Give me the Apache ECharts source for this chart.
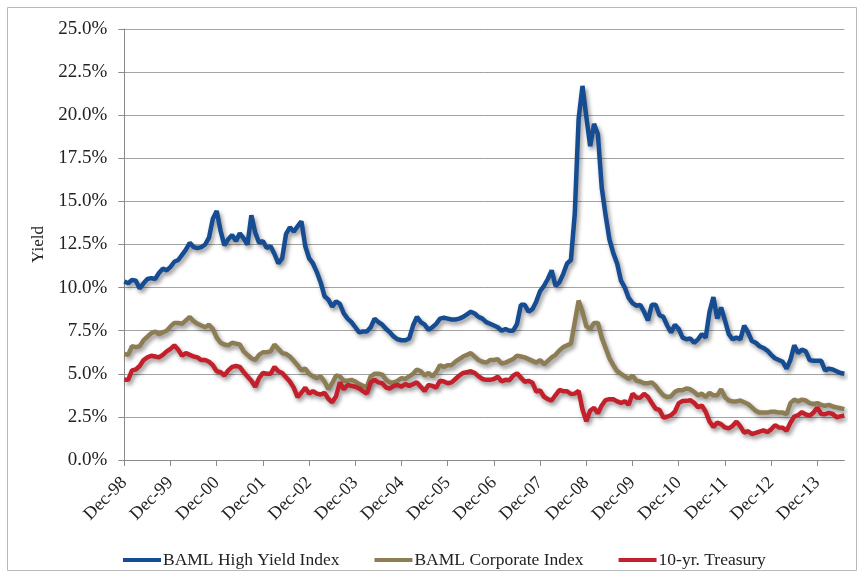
<!DOCTYPE html>
<html>
<head>
<meta charset="utf-8">
<script src="https://cdn.jsdelivr.net/npm/echarts@6/dist/echarts.min.js"></script>
<style>
html,body{margin:0;padding:0;background:#fff;}
#c{width:864px;height:578px;}
</style>
</head>
<body>
<div id="c"></div>
<script>
// Monthly observations, Dec-98 .. Jul-14
const monthNames = ['Jan','Feb','Mar','Apr','May','Jun','Jul','Aug','Sep','Oct','Nov','Dec'];
const categories = [];
for (let i = 0; i < 188; i++) {
  const m = (11 + i) % 12;
  const y = 1998 + Math.floor((11 + i) / 12);
  categories.push(monthNames[m] + '-' + String(y % 100).padStart(2, '0'));
}
const yTicks = [0, 2.5, 5, 7.5, 10, 12.5, 15, 17.5, 20, 22.5, 25];
const seriesNames = ['BAML High Yield Index', 'BAML Corporate Index', '10-yr. Treasury'];

const highYield = [
  10.35, 10.25, 10.45, 10.4, 9.95, 10.25, 10.5, 10.55, 10.5, 10.85, 11.1, 11.0,
  11.2, 11.5, 11.6, 11.9, 12.2, 12.6, 12.35, 12.3, 12.35, 12.5, 12.9, 14.0,
  14.45, 13.3, 12.45, 12.8, 13.05, 12.7, 13.15, 12.85, 12.5, 14.2, 13.2, 12.6,
  12.7, 12.3, 12.4, 11.95, 11.4, 11.7, 13.1, 13.5, 13.25, 13.55, 13.85, 12.4,
  11.7, 11.4, 10.9, 10.3, 9.5, 9.3, 8.9, 9.2, 9.05, 8.5, 8.2, 8.0,
  7.7, 7.4, 7.45, 7.45, 7.7, 8.2, 8.0, 7.85, 7.6, 7.4, 7.15, 7.0,
  6.95, 6.95, 7.05, 7.8, 8.3, 8.0, 7.85, 7.55, 7.7, 7.9, 8.2, 8.25,
  8.2, 8.15, 8.15, 8.2, 8.3, 8.45, 8.6, 8.5, 8.3, 8.2, 8.0, 7.9,
  7.8, 7.7, 7.5, 7.6, 7.5, 7.5, 7.9, 9.0, 9.0, 8.6, 8.75, 9.2,
  9.8, 10.1, 10.5, 11.0, 10.1, 10.3, 10.8, 11.4, 11.6, 14.3, 19.8, 21.7,
  19.9, 18.2, 19.5, 18.9, 15.8, 14.2, 12.8, 12.0, 11.4, 10.4, 10.0, 9.4,
  9.1, 8.95, 9.0, 8.6, 8.1, 9.0, 9.0, 8.4, 8.3, 7.8, 7.4, 7.85,
  7.6, 7.1, 7.0, 7.05, 6.8, 7.0, 7.3, 7.1, 8.6, 9.45, 8.2, 8.85,
  8.1, 7.3, 7.0, 7.1, 7.0, 7.8, 7.4, 6.9, 6.8, 6.6, 6.5, 6.35,
  6.1, 5.9, 5.8, 5.7, 5.3, 5.8, 6.65, 6.2, 6.4, 6.3, 5.8, 5.75,
  5.75, 5.75, 5.2, 5.3, 5.25, 5.15, 5.05, 5.0
];

const corporate = [
  6.15, 6.1, 6.6, 6.55, 6.6, 6.95, 7.15, 7.35, 7.45, 7.3, 7.4, 7.5,
  7.75, 7.95, 7.95, 7.9, 8.1, 8.3, 8.05, 7.9, 7.8, 7.7, 7.85, 7.6,
  7.1, 6.8, 6.7, 6.65, 6.8, 6.75, 6.7, 6.3, 6.1, 5.9, 5.8, 6.1,
  6.25, 6.25, 6.3, 6.7, 6.45, 6.2, 6.15, 6.0, 5.75, 5.5, 5.2, 5.3,
  5.0, 4.85, 4.75, 4.85, 4.55, 4.1, 4.45, 4.9, 4.85, 4.6, 4.6, 4.65,
  4.55, 4.4, 4.3, 4.25, 4.85, 5.0, 5.0, 4.95, 4.65, 4.5, 4.5, 4.6,
  4.75, 4.7, 4.85, 5.0, 5.25, 5.15, 4.9, 5.05, 4.85, 5.1, 5.5, 5.4,
  5.5, 5.5, 5.7, 5.85, 6.0, 6.1, 6.2, 6.0, 5.8, 5.7, 5.65, 5.8,
  5.8, 5.85, 5.6, 5.65, 5.75, 5.85, 6.05, 6.0, 5.95, 5.85, 5.75, 5.65,
  5.8, 5.55, 5.75, 5.95, 6.1, 6.35, 6.55, 6.65, 6.75, 8.0, 9.25, 8.6,
  7.75, 7.6, 7.95, 7.95, 7.1, 6.5, 5.9, 5.5, 5.15, 5.0, 4.85, 4.7,
  4.9, 4.6, 4.55, 4.45, 4.45, 4.5, 4.3, 4.0, 3.75, 3.65, 3.7, 3.95,
  4.05, 4.05, 4.15, 4.1, 3.95, 3.75, 3.85, 3.65, 3.9, 3.75, 3.75, 4.1,
  3.65, 3.45, 3.4, 3.4, 3.45, 3.35, 3.25, 3.05, 2.85, 2.75, 2.75, 2.75,
  2.8, 2.8, 2.75, 2.75, 2.65, 3.3, 3.5, 3.4, 3.5, 3.45, 3.3, 3.25,
  3.3, 3.2, 3.15, 3.2, 3.1, 3.05, 3.0, 2.95
];

const treasury = [
  4.65, 4.65, 5.2, 5.25, 5.45, 5.8, 5.95, 6.05, 6.0, 5.95, 6.1, 6.3,
  6.45, 6.65, 6.4, 6.05, 6.2, 6.1, 6.0, 5.95, 5.8, 5.8, 5.7, 5.5,
  5.15, 5.1, 4.9, 5.2, 5.4, 5.45, 5.4, 5.1, 4.85, 4.6, 4.25, 4.75,
  5.05, 5.0, 5.0, 5.4, 5.15, 5.05, 4.8, 4.55, 4.2, 3.65, 3.9, 4.2,
  3.85, 4.0, 3.85, 3.8, 3.9, 3.55, 3.35, 3.7, 4.5, 4.1, 4.35, 4.3,
  4.25, 4.15, 4.0, 3.85, 4.5, 4.65, 4.5, 4.45, 4.2, 4.15, 4.3, 4.35,
  4.25, 4.4, 4.3, 4.4, 4.5, 4.25, 4.0, 4.35, 4.3, 4.2, 4.6, 4.55,
  4.45, 4.5, 4.7, 4.9, 5.05, 5.1, 5.15, 5.05, 4.85, 4.7, 4.65, 4.65,
  4.7, 4.83, 4.56, 4.65, 4.63, 4.89, 5.03, 4.78, 4.54, 4.59, 4.48, 3.97,
  4.04, 3.67, 3.53, 3.45, 3.77, 4.06, 3.99, 3.99, 3.83, 3.85, 4.01, 2.93,
  2.25, 2.87, 3.02, 2.71, 3.16, 3.47, 3.53, 3.52, 3.40, 3.31, 3.41, 3.21,
  3.85, 3.63, 3.61, 3.84, 3.66, 3.31, 2.97, 2.91, 2.47, 2.51, 2.60, 2.81,
  3.30, 3.42, 3.43, 3.47, 3.32, 3.06, 3.16, 2.80, 2.23, 1.92, 2.17, 2.08,
  1.89, 1.83, 1.98, 2.23, 1.95, 1.59, 1.67, 1.51, 1.57, 1.65, 1.72, 1.62,
  1.78, 2.02, 1.89, 1.87, 1.70, 2.16, 2.52, 2.60, 2.78, 2.64, 2.57, 2.75,
  3.04, 2.67, 2.66, 2.73, 2.67, 2.48, 2.53, 2.58
];

const colors = ['#164C92', '#8C7D55', '#C4202B'];
const font = '"Liberation Serif", "Times New Roman", serif';

const chart = echarts.init(document.getElementById('c'), null, {renderer: 'canvas'});

function lineSeries(name, data, color) {
  return {
    name: name,
    type: 'line',
    data: data,
    symbol: 'none',
    smooth: false,
    lineStyle: {
      color: color,
      width: 4.5,
      shadowColor: 'rgba(0,0,0,0.42)',
      shadowBlur: 4,
      shadowOffsetX: 2,
      shadowOffsetY: 3
    },
    itemStyle: {color: color},
    emphasis: {disabled: true},
    animation: false
  };
}

chart.setOption({
  animation: false,
  backgroundColor: '#fff',
  graphic: [{
    type: 'rect',
    shape: {x: 7.5, y: 7.5, width: 849, height: 563},
    style: {fill: 'none', stroke: '#b8b8b8', lineWidth: 1},
    silent: true,
    z: -1
  }],
  grid: {left: 124.3, right: 19.7, top: 29, bottom: 118, containLabel: false},
  legend: {
    data: seriesNames.map((n, i) => ({name: n, icon: 'rect', itemStyle: {color: colors[i]}})),
    left: 118,
    top: 546,
    itemWidth: 38,
    itemHeight: 4,
    itemGap: 35,
    textStyle: {fontFamily: font, fontSize: 17.5, color: '#222', padding: [0, 0, 0, -3]}
  },
  xAxis: {
    type: 'category',
    data: categories,
    boundaryGap: false,
    axisLine: {show: true, lineStyle: {color: '#8a8a8a', width: 1}},
    axisTick: {show: true, interval: 11, length: 6, lineStyle: {color: '#8a8a8a'}},
    axisLabel: {
      interval: 11,
      rotate: 45,
      margin: 20,
      fontFamily: font,
      fontSize: 18,
      color: '#222'
    },
    splitLine: {show: false}
  },
  yAxis: {
    type: 'value',
    min: yTicks[0],
    max: yTicks[yTicks.length - 1],
    interval: 2.5,
    name: 'Yield',
    nameLocation: 'middle',
    nameGap: 75,
    nameTextStyle: {fontFamily: font, fontSize: 17, color: '#222'},
    axisLine: {show: true, lineStyle: {color: '#8a8a8a', width: 1}},
    axisTick: {show: true, length: 6, lineStyle: {color: '#8a8a8a'}},
    axisLabel: {
      margin: 17,
      fontFamily: font,
      fontSize: 19,
      color: '#222',
      formatter: v => v.toFixed(1) + '%'
    },
    splitLine: {show: true, lineStyle: {color: '#a3a3a3', width: 1}}
  },
  series: [
    lineSeries(seriesNames[0], highYield, colors[0]),
    lineSeries(seriesNames[1], corporate, colors[1]),
    lineSeries(seriesNames[2], treasury, colors[2])
  ]
});
</script>
</body>
</html>
